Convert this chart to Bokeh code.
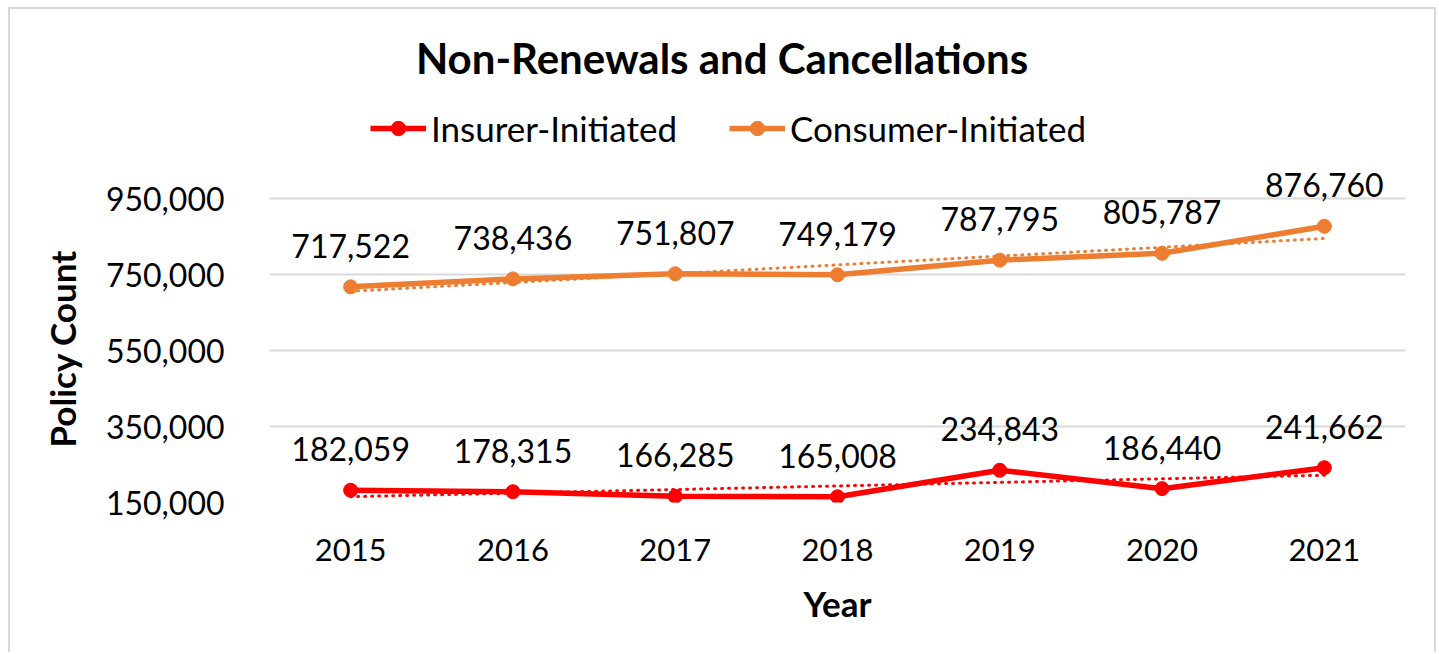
import numpy as np
from bokeh.plotting import figure
from bokeh.models import (Range1d, FactorRange, FixedTicker, NumeralTickFormatter,
                          Legend, LegendItem, Title, Label)
from bokeh.core.properties import value
from bokeh.embed import file_html
from bokeh.resources import INLINE

years = ["2015", "2016", "2017", "2018", "2019", "2020", "2021"]
insurer = [182059, 178315, 166285, 165008, 234843, 186440, 241662]
consumer = [717522, 738436, 751807, 749179, 787795, 805787, 876760]
y_ticks = [150000, 350000, 550000, 750000, 950000]
series_names = ["Insurer-Initiated", "Consumer-Initiated"]
chart_title = "Non-Renewals and Cancellations"
x_title = "Year"
y_title = "Policy Count"

FONT = "Lato"
RED = "#FF0000"
ORANGE = "#ED7D31"
GRID = "#D9D9D9"

# layout (pixels)
FRAME_W = 1136
FRAME_H = 482          # frame extends up to hold title / legend / labels
AXIS_PX = 304          # pixel span of the 150,000 .. 950,000 axis
y_lo, y_hi = y_ticks[0], y_ticks[-1]
data_per_px = (y_hi - y_lo) / AXIS_PX
y_end = y_lo + FRAME_H * data_per_px

def y_at(px_above_bottom):
    return y_lo + px_above_bottom * data_per_px

def x_at(px_from_left):
    return px_from_left / (FRAME_W / len(years))

p = figure(x_range=FactorRange(*years), y_range=Range1d(y_lo, y_end),
           output_backend="svg", toolbar_location=None,
           frame_width=FRAME_W, frame_height=FRAME_H,
           min_border_left=259, min_border_right=29,
           min_border_top=11, min_border_bottom=150, title=None)
p.outline_line_color = None
p.background_fill_color = "white"
p.border_fill_color = "white"
p.styles = {"margin-left": "8px", "margin-top": "7px",
            "border-top": "2px solid #d9d9d9", "border-left": "2px solid #d9d9d9",
            "border-right": "2px solid #d9d9d9"}

# axes
p.yaxis.ticker = FixedTicker(ticks=y_ticks)
p.yaxis.formatter = NumeralTickFormatter(format="0,0")
for ax in (p.xaxis[0], p.yaxis[0]):
    ax.axis_line_color = None
    ax.major_tick_line_color = None
    ax.minor_tick_line_color = None
    ax.major_label_text_font = FONT
    ax.major_label_text_color = "black"
    ax.axis_label_text_font = FONT
    ax.axis_label_text_font_style = "bold"
    ax.axis_label_text_font_size = "35px"
    ax.axis_label_text_color = "black"
p.xaxis.major_label_text_font_size = "31px"
p.yaxis.major_label_text_font_size = "32px"
p.yaxis.major_label_standoff = 39
p.xaxis.major_label_standoff = 30
p.xaxis.axis_label = x_title
p.xaxis.axis_label_standoff = 18

p.xgrid.grid_line_color = None
p.ygrid.grid_line_color = GRID
p.ygrid.grid_line_width = 2

xi = np.arange(1, len(years) + 1)
items = []
for vals, color, name in ((insurer, RED, series_names[0]), (consumer, ORANGE, series_names[1])):
    k, b = np.polyfit(xi, vals, 1)
    p.line(x=[years[0], years[-1]], y=[k * xi[0] + b, k * xi[-1] + b],
           line_color=color, line_width=3, line_dash="1 6", line_cap="round")
    lr = p.line(x=years, y=vals, line_color=color, line_width=5.5, line_join="round")
    sr = p.scatter(x=years, y=vals, size=14, fill_color=color, line_color=color)
    p.text(x=years, y=vals, text=[f"{v:,}" for v in vals], text_align="center",
           text_baseline="middle", y_offset=-41, text_font=value(FONT),
           text_font_size="32px", text_color="black")
    items.append(LegendItem(label=name, renderers=[lr, sr]))

legend = Legend(items=items, orientation="horizontal", location=(101, 353),
                glyph_width=56, glyph_height=36, label_height=36, label_standoff=5,
                spacing=52, padding=0, margin=0, border_line_color=None,
                background_fill_alpha=0,
                label_text_font=FONT, label_text_font_size="35px", label_text_color="black")
p.add_layout(legend, "center")

p.add_layout(Label(x=x_at(721.5 - 269), y=y_at(502 - 57), text=chart_title,
                   text_align="center", text_baseline="middle",
                   text_font=FONT, text_font_size="42px", text_font_style="bold",
                   text_color="black"))

p.add_layout(Title(text=y_title, align="left", offset=55, standoff=40,
                   text_font=FONT, text_font_size="35px", text_font_style="bold",
                   text_color="black"), "left")

open("out.html", "w").write(file_html(p, INLINE))
